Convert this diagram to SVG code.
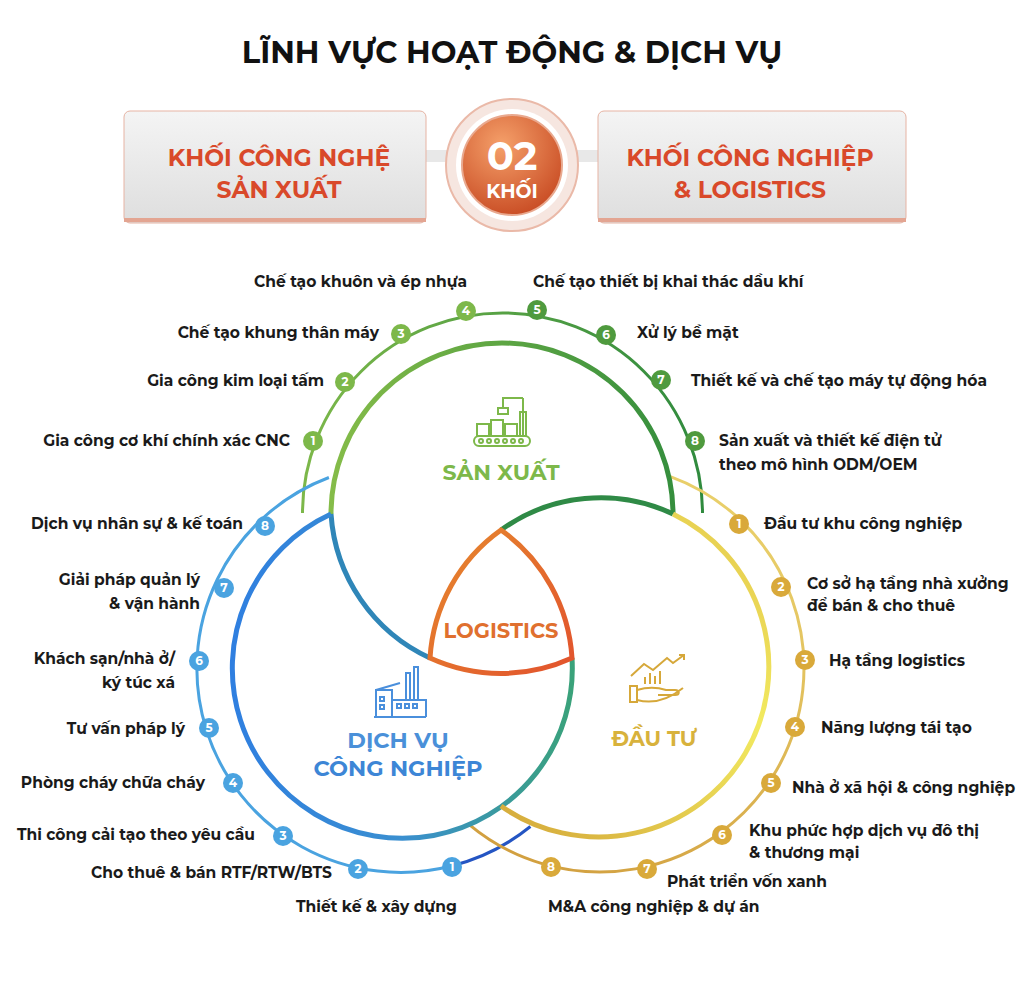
<svg xmlns="http://www.w3.org/2000/svg" width="1024" height="982" viewBox="0 0 1024 982">
<defs>
<linearGradient id="gTop" x1="300" y1="0" x2="705" y2="0" gradientUnits="userSpaceOnUse"><stop offset="0" stop-color="#8cc04a"/><stop offset="1" stop-color="#2e8a3c"/></linearGradient>
<linearGradient id="gLeft" x1="232" y1="0" x2="572" y2="0" gradientUnits="userSpaceOnUse"><stop offset="0" stop-color="#2f7fe0"/><stop offset="0.5" stop-color="#3a8fd0"/><stop offset="1" stop-color="#3aa27a"/></linearGradient>
<linearGradient id="gRight" x1="770" y1="500" x2="480" y2="820" gradientUnits="userSpaceOnUse"><stop offset="0" stop-color="#e2c24a"/><stop offset="0.4" stop-color="#f2ea60"/><stop offset="1" stop-color="#d4a83a"/></linearGradient>
<linearGradient id="gTri" x1="430" y1="530" x2="572" y2="660" gradientUnits="userSpaceOnUse"><stop offset="0" stop-color="#e6892e"/><stop offset="1" stop-color="#e2552d"/></linearGradient>
<linearGradient id="gRing" x1="300" y1="0" x2="705" y2="0" gradientUnits="userSpaceOnUse"><stop offset="0" stop-color="#7db84a"/><stop offset="1" stop-color="#2f8a3e"/></linearGradient>
<linearGradient id="gGold" x1="670" y1="470" x2="470" y2="830" gradientUnits="userSpaceOnUse"><stop offset="0" stop-color="#e9cf6a"/><stop offset="1" stop-color="#d2a040"/></linearGradient>
<linearGradient id="gBox" x1="0" y1="0" x2="0" y2="1"><stop offset="0" stop-color="#f4f4f4"/><stop offset="1" stop-color="#dedede"/></linearGradient>
<radialGradient id="gBall" cx="0.4" cy="0.3" r="0.8"><stop offset="0" stop-color="#f5a06a"/><stop offset="1" stop-color="#c5451e"/></radialGradient>
</defs>
<style>
text{font-family:"Montserrat","Inter","Liberation Sans",sans-serif;font-weight:700}
.lb{font-size:15.5px;fill:#1a1a1a}
.r{text-anchor:end}
.m{text-anchor:middle}
.bn{font-size:12px;fill:#fff;text-anchor:middle}
.box{font-size:23.5px;fill:#d9492a;text-anchor:middle}
.arc{fill:none;stroke-width:5;stroke-linecap:butt}
.ring{fill:none;stroke-width:3}
.ic{fill:none;stroke-width:2}
</style>
<rect width="1024" height="982" fill="#fff"/>
<text x="512" y="63" class="m" font-size="30.5" fill="#111">LĨNH VỰC HOẠT ĐỘNG &amp; DỊCH VỤ</text>

<g id="header">
<rect x="420" y="150" width="190" height="12" fill="#e8e8e8"/>
<rect x="124" y="111" width="302" height="112" rx="6" fill="url(#gBox)" stroke="#e6b3a3" stroke-width="1"/>
<rect x="124" y="218" width="302" height="4" fill="#e3a592"/>
<rect x="598" y="111" width="308" height="112" rx="6" fill="url(#gBox)" stroke="#e6b3a3" stroke-width="1"/>
<rect x="598" y="218" width="308" height="4" fill="#e3a592"/>
<text x="279" y="166" class="box">KHỐI CÔNG NGHỆ</text>
<text x="279" y="198" class="box">SẢN XUẤT</text>
<text x="750" y="166" class="box">KHỐI CÔNG NGHIỆP</text>
<text x="750" y="198" class="box">&amp; LOGISTICS</text>
<circle cx="512" cy="165" r="66" fill="#f6e6e0" stroke="#eab9a8" stroke-width="2"/>
<circle cx="512" cy="165" r="56" fill="#fff"/>
<circle cx="512" cy="165" r="50" fill="url(#gBall)" stroke="#e9a98f" stroke-width="2"/>
<text x="512" y="170" class="m" font-size="40" fill="#fff">02</text>
<text x="512" y="198" class="m" font-size="19" fill="#fff">KHỐI</text>
</g>

<g id="rings">
<path class="ring" stroke="url(#gRing)" d="M302.5,513 A200,200 0 1,1 702.5,513"/>
<path class="ring" stroke="#4aa3e0" d="M328.9,477.5 A204,204 0 0,0 451.5,866"/>
<path class="ring" stroke="#2455c3" d="M451.5,866 A204,204 0 0,0 530.4,826.5"/>
<path class="ring" stroke="url(#gGold)" d="M669.8,476.3 A204,204 0 1,1 468.9,824.3"/>
</g>

<g id="circles">
<path class="arc" stroke="url(#gTop)" d="M331,514 A171,171 0 1,1 673,514"/>
<path class="arc" stroke="#2f86b8" d="M331,514 A171,171 0 0,0 430,658"/>
<path class="arc" stroke="url(#gLeft)" d="M331,514 A170,170 0 1,0 572,658"/>
<path class="arc" stroke="#2f8a46" d="M501,530 A170,170 0 0,1 673,514"/>
<path class="arc" stroke="url(#gRight)" d="M673,514 A170,170 0 1,1 501,806"/>
<path class="arc" stroke="url(#gTri)" d="M430,658 A171,171 0 0,0 572,658 A170,170 0 0,0 501,530 A170,170 0 0,0 430,658 Z"/>
</g>

<g id="sanxuat">
<g class="ic" stroke="#7db84a">
<rect x="474" y="436" width="56" height="10" rx="5"/>
<circle cx="481" cy="441" r="2"/><circle cx="489" cy="441" r="2"/><circle cx="497" cy="441" r="2"/><circle cx="505" cy="441" r="2"/><circle cx="513" cy="441" r="2"/><circle cx="521" cy="441" r="2"/>
<rect x="477" y="424" width="12" height="12"/><rect x="491" y="420" width="12" height="16"/><rect x="505" y="424" width="12" height="12"/>
<path d="M523,436 V398 M523,398 H503 V408 M498,408 H508 V414 H498 Z"/>
<rect x="520" y="412" width="6" height="24"/>
</g>
<text x="501" y="480" class="m" font-size="22" fill="#7db84a">SẢN XUẤT</text>
</g>

<g id="logistics"><text x="501" y="638" class="m" font-size="21" fill="#e0702f">LOGISTICS</text></g>

<g id="dichvu">
<g class="ic" stroke="#4a8fdc">
<path d="M374,717 H426 M376,717 V690 H392 V717 M376,690 L400,683 M392,700 H426 V717 M406,700 V673 H410 V700 M414,700 V667 H418 V700"/>
<rect x="380" y="697" width="4" height="4"/><rect x="380" y="705" width="4" height="4"/><rect x="397" y="704" width="4" height="4"/><rect x="405" y="704" width="4" height="4"/><rect x="413" y="704" width="4" height="4"/>
</g>
<text x="398" y="748" class="m" font-size="22.5" fill="#4a90d9">DỊCH VỤ</text>
<text x="398" y="776" class="m" font-size="22.5" fill="#3d86d6">CÔNG NGHIỆP</text>
</g>

<g id="dautu">
<g class="ic" stroke="#d6a83a">
<path d="M631,676 L644,664 L653,670 L667,658 L673,663 L684,655 M679,655 H684 V660"/>
<path d="M645,684 V677 M650,684 V673 M655,684 V676 M660,684 V671"/>
<rect x="630" y="686" width="7" height="16"/>
<path d="M637,690 C650,686 660,688 666,690 H675 C680,690 680,695 675,695 H658 M637,700 C652,704 668,700 683,688"/>
</g>
<text x="654" y="746" class="m" font-size="21" fill="#d8b23c">ĐẦU TƯ</text>
</g>

<g id="top-items">
<g fill="#7db84a"><circle cx="313" cy="441" r="10"/><circle cx="345" cy="382" r="10"/><circle cx="401" cy="334" r="10"/><circle cx="466" cy="311" r="10"/></g>
<g fill="#4f9a3e"><circle cx="537" cy="310" r="10"/><circle cx="606" cy="335" r="10"/><circle cx="661" cy="380" r="10"/><circle cx="695" cy="441" r="10"/></g>
<text x="313" y="445" class="bn">1</text><text x="345" y="386" class="bn">2</text><text x="401" y="338" class="bn">3</text><text x="466" y="315" class="bn">4</text>
<text x="537" y="314" class="bn">5</text><text x="606" y="339" class="bn">6</text><text x="661" y="384" class="bn">7</text><text x="695" y="445" class="bn">8</text>
<text x="290" y="446" class="lb r">Gia công cơ khí chính xác CNC</text>
<text x="324" y="386" class="lb r">Gia công kim loại tấm</text>
<text x="379" y="338" class="lb r">Chế tạo khung thân máy</text>
<text x="467" y="287" class="lb r">Chế tạo khuôn và ép nhựa</text>
<text x="533" y="287" class="lb">Chế tạo thiết bị khai thác dầu khí</text>
<text x="637" y="338" class="lb">Xử lý bề mặt</text>
<text x="691" y="386" class="lb">Thiết kế và chế tạo máy tự động hóa</text>
<text x="719" y="446" class="lb">Sản xuất và thiết kế điện tử</text>
<text x="719" y="470" class="lb">theo mô hình ODM/OEM</text>
</g>

<g id="left-items">
<g fill="#4aa3e0"><circle cx="265" cy="526" r="10"/><circle cx="224" cy="588" r="10"/><circle cx="199" cy="661" r="10"/><circle cx="209" cy="728" r="10"/><circle cx="233" cy="783" r="10"/><circle cx="283" cy="836" r="10"/><circle cx="358" cy="869" r="10"/><circle cx="452" cy="867" r="10"/></g>
<text x="265" y="530" class="bn">8</text><text x="224" y="592" class="bn">7</text><text x="199" y="665" class="bn">6</text><text x="209" y="732" class="bn">5</text><text x="233" y="787" class="bn">4</text><text x="283" y="840" class="bn">3</text><text x="358" y="873" class="bn">2</text><text x="452" y="871" class="bn">1</text>
<text x="243" y="529" class="lb r">Dịch vụ nhân sự &amp; kế toán</text>
<text x="200" y="585" class="lb r">Giải pháp quản lý</text>
<text x="200" y="609" class="lb r">&amp; vận hành</text>
<text x="175" y="664" class="lb r">Khách sạn/nhà ở/</text>
<text x="175" y="688" class="lb r">ký túc xá</text>
<text x="185" y="734" class="lb r">Tư vấn pháp lý</text>
<text x="205" y="788" class="lb r">Phòng cháy chữa cháy</text>
<text x="255" y="840" class="lb r">Thi công cải tạo theo yêu cầu</text>
<text x="332" y="878" class="lb r">Cho thuê &amp; bán RTF/RTW/BTS</text>
<text x="296" y="912" class="lb">Thiết kế &amp; xây dựng</text>
</g>

<g id="right-items">
<g fill="#d9a93a"><circle cx="739" cy="524" r="10"/><circle cx="781" cy="587" r="10"/><circle cx="805" cy="660" r="10"/><circle cx="795" cy="727" r="10"/><circle cx="771" cy="783" r="10"/><circle cx="722" cy="835" r="10"/><circle cx="647" cy="869" r="10"/><circle cx="551" cy="867" r="10"/></g>
<text x="739" y="528" class="bn">1</text><text x="781" y="591" class="bn">2</text><text x="805" y="664" class="bn">3</text><text x="795" y="731" class="bn">4</text><text x="771" y="787" class="bn">5</text><text x="722" y="839" class="bn">6</text><text x="647" y="873" class="bn">7</text><text x="551" y="871" class="bn">8</text>
<text x="764" y="529" class="lb">Đầu tư khu công nghiệp</text>
<text x="807" y="589" class="lb">Cơ sở hạ tầng nhà xưởng</text>
<text x="807" y="611" class="lb">để bán &amp; cho thuê</text>
<text x="829" y="666" class="lb">Hạ tầng logistics</text>
<text x="821" y="733" class="lb">Năng lượng tái tạo</text>
<text x="792" y="793" class="lb">Nhà ở xã hội &amp; công nghiệp</text>
<text x="749" y="836" class="lb">Khu phức hợp dịch vụ đô thị</text>
<text x="749" y="858" class="lb">&amp; thương mại</text>
<text x="667" y="887" class="lb">Phát triển vốn xanh</text>
<text x="548" y="912" class="lb">M&amp;A công nghiệp &amp; dự án</text>
</g>
</svg>
